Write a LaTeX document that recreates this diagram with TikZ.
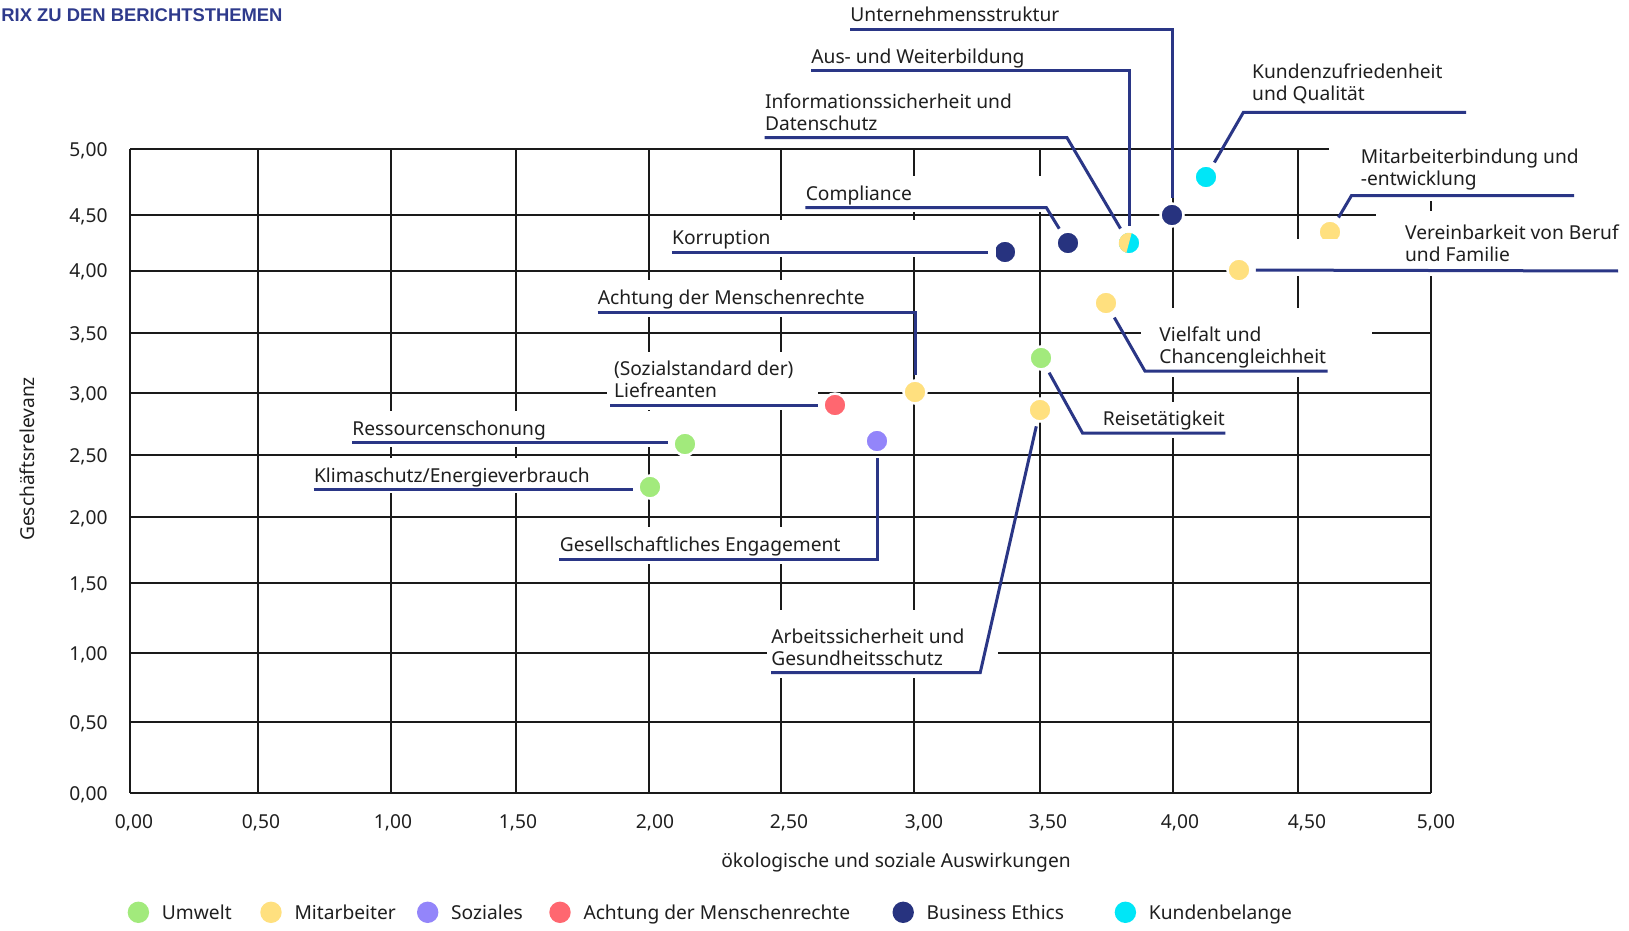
\documentclass[tikz,border=0pt]{standalone}
\usepackage{fontspec}
\setmainfont{Noto Sans}
\newfontfamily\titlefont{Liberation Sans}
\usepackage{xcolor}
\usetikzlibrary{positioning}
\definecolor{matNavy}{HTML}{27337F}
\definecolor{matLine}{HTML}{2A3686}
\definecolor{matTitle}{HTML}{2E3A8C}
\definecolor{matGreen}{HTML}{A2EA7C}
\definecolor{matYellow}{HTML}{FFE07F}
\definecolor{matPurple}{HTML}{9385FA}
\definecolor{matRed}{HTML}{FF6770}
\definecolor{matCyan}{HTML}{00E6F7}
\definecolor{matText}{HTML}{1F1F1F}
\definecolor{matGrid}{HTML}{1A1A1A}
\tikzset{
  gridline/.style={draw=matGrid, line width=0.9pt},
  mask/.style={fill=white},
  topic/.style={circle, inner sep=0pt, minimum size=11.5pt, draw=white, line width=1.25pt},
  lbl/.style={anchor=base west, inner sep=0pt, align=left, text=matText, font=\fontsize{9.6}{11}\selectfont},
  leader/.style={draw=matLine, line width=1.5pt, shorten >=2pt},
  tick/.style={inner sep=0pt, text=matText, font=\fontsize{9.6}{11}\selectfont},
  legdot/.style={circle, inner sep=0pt, minimum size=10.7pt},
  legtxt/.style={inner sep=0pt, text depth=0pt, text=matText, font=\fontsize{9.6}{11}\selectfont}
}
\begin{document}
\begin{tikzpicture}[x=0.5pt, y=-0.5pt]
\fill[white] (0,0) rectangle (1629,931);
\useasboundingbox (0,0) rectangle (1629,931);
\node[anchor=base west, inner sep=0pt, text=matTitle, font=\titlefont\fontsize{9.2}{11}\selectfont\bfseries] (title) at (1,21.7) {RIX ZU DEN BERICHTSTHEMEN};
% grid and scales
\foreach \gy/\val [count=\i] in {149/{5,00},215/{4,50},271/{4,00},333/{3,50},393/{3,00},455/{2,50},517/{2,00},583/{1,50},653/{1,00},722/{0,50},793/{0,00}} {
  \draw[gridline] (130,\gy) -- (1431,\gy);
  \node[tick, anchor=base west] (yt\i) at (69,\gy+7) {\val};
}
\foreach \gx/\cx/\val [count=\i] in {130/134/{0,00},258/261/{0,50},391/393/{1,00},516/518/{1,50},649/655/{2,00},781/789/{2,50},914/924/{3,00},1040/1048/{3,50},1173/1180/{4,00},1298/1307/{4,50},1431/1436/{5,00}} {
  \draw[gridline] (\gx,149) -- (\gx,793);
  \node[tick, anchor=base] (xt\i) at (\cx,828.7) {\val};
}
\node[tick, anchor=base] (xtitle) at (896,867) {ökologische und soziale Auswirkungen};
\node[tick, rotate=90] (ytitle) at (27,459) {Geschäftsrelevanz};
% topics
\node[topic, fill=matNavy] (dUnt) at (1172,215) {};
\node[topic, fill=matCyan] (dAus) at (1129,243) {};
\fill[matYellow] (dAus.center) ++(105:10.25) arc[start angle=105, end angle=285, radius=10.25] -- cycle;
\node[topic, fill=matCyan] (dKun) at (1206,177) {};
\node[topic, fill=matYellow] (dMit) at (1330,232) {};
\node[topic, fill=matYellow] (dVer) at (1239,270) {};
\node[topic, fill=matNavy] (dCom) at (1068,243) {};
\node[topic, fill=matNavy] (dKor) at (1005,252) {};
\node[topic, fill=matYellow] (dVie) at (1106,303) {};
\node[topic, fill=matYellow] (dAch) at (915,392) {};
\node[topic, fill=matRed] (dSoz) at (835,405) {};
\node[topic, fill=matGreen] (dRes) at (685,444) {};
\node[topic, fill=matGreen] (dKli) at (650,487) {};
\node[topic, fill=matPurple] (dGes) at (877,441) {};
\node[topic, fill=matGreen] (dRei) at (1041,358) {};
\node[topic, fill=matYellow] (dArb) at (1040,410) {};
% label backgrounds
\fill[mask] (1329,140) rectangle (1629,201);
\fill[mask] (1376,211) rectangle (1629,276);
\fill[mask] (1250,239) rectangle (1629,276);
\fill[mask] (797,176) rectangle (1050,212);
\fill[mask] (664,220) rectangle (996,257);
\fill[mask] (590,280) rectangle (908,317);
\fill[mask] (607,352) rectangle (818,410);
\fill[mask] (345,411) rectangle (672,447);
\fill[mask] (306,458) rectangle (636,493);
\fill[mask] (552,527) rectangle (880,564);
\fill[mask] (767,610) rectangle (998,678);
\fill[mask] (1141,308) rectangle (1372,377);
\fill[mask] (1095,402) rectangle (1232,438);
% labels
\node[lbl] (lUnt) at (850,22) {Unternehmensstruktur};
\node[lbl] (lAus) at (811,63.5) {Aus- und Weiterbildung};
\node[lbl] (lInf) at (764.6,131) {Informationssicherheit und\\Datenschutz};
\node[lbl] (lKun) at (1251.8,101) {Kundenzufriedenheit\\und Qualität};
\node[lbl] (lMit) at (1360.5,185) {Mitarbeiterbindung und\\-entwicklung};
\node[lbl] (lVer) at (1404.7,262) {Vereinbarkeit von Beruf\\und Familie};
\node[lbl] (lCom) at (805.4,200.5) {Compliance};
\node[lbl] (lKor) at (671.8,244) {Korruption};
\node[lbl] (lVie) at (1159,363.5) {Vielfalt und\\Chancengleichheit};
\node[lbl] (lRei) at (1102.4,425.5) {Reisetätigkeit};
\node[lbl] (lAch) at (597.5,304.5) {Achtung der Menschenrechte};
\node[lbl] (lSoz) at (613.6,397) {(Sozialstandard der)\\Liefreanten};
\node[lbl] (lRes) at (352,435) {Ressourcenschonung};
\node[lbl] (lKli) at (313.6,482) {Klimaschutz/Energieverbrauch};
\node[lbl] (lGes) at (559.4,551.7) {Gesellschaftliches Engagement};
\node[lbl] (lArb) at (771,665.5) {Arbeitssicherheit und\\Gesundheitsschutz};
% leaders
\coordinate (uUnt) at (850,29.3);
\coordinate (uAus) at (811,71);
\coordinate (uInf) at (764.6,137.7);
\coordinate (uKun) at (1466,112.3);
\coordinate (uMit) at (1574,195.7);
\coordinate (uVer) at (1618,271);
\coordinate (uCom) at (805.4,207.7);
\coordinate (uKor) at (671.8,252);
\coordinate (uVie) at (1327.7,371);
\coordinate (uRei) at (1225.4,433);
\coordinate (uAch) at (597.5,312);
\coordinate (uSoz) at (610,405);
\coordinate (uRes) at (352,442.3);
\coordinate (uKli) at (313.6,489.7);
\coordinate (uGes) at (559.4,559);
\coordinate (uArb) at (771,672.7);
\draw[leader] (uUnt) -| (dUnt);
\draw[leader] (uAus) -| (dAus);
\draw[leader] (uInf) -- (1067,137.7) -- (dAus);
\draw[leader] (uKun) -- (1243.4,112.3) -- (dKun);
\draw[leader] (uMit) -- (1351.4,195.7) -- (dMit);
\draw[leader] (uVer) -- (dVer);
\draw[leader] (uCom) -- (1046.4,207.7) -- (dCom);
\draw[leader] (uKor) -- (uKor -| dKor.west);
\draw[leader] (uVie) -- (1144.9,371) -- (dVie);
\draw[leader] (uRei) -- (1082.5,433) -- (dRei);
\draw[leader] (uAch) -| (dAch);
\draw[leader] (uSoz) -- (uSoz -| dSoz.west);
\draw[leader] (uRes) -- (uRes -| dRes.west);
\draw[leader] (uKli) -- (uKli -| dKli.west);
\draw[leader] (uGes) -| (dGes);
\draw[leader] (uArb) -- (980.2,672.7) -- (dArb);
% legend
\node[legdot, fill=matGreen] (lgUmw) at (138.4,912.3) {};
\node[legtxt, right=6pt of lgUmw] (ltUmw) {Umwelt};
\node[legdot, fill=matYellow] (lgMit) at (271,912.3) {};
\node[legtxt, right=6pt of lgMit] (ltMit) {Mitarbeiter};
\node[legdot, fill=matPurple] (lgSoz) at (427.7,912.3) {};
\node[legtxt, right=6pt of lgSoz] (ltSoz) {Soziales};
\node[legdot, fill=matRed] (lgAch) at (560,912.3) {};
\node[legtxt, right=6pt of lgAch] (ltAch) {Achtung der Menschenrechte};
\node[legdot, fill=matNavy] (lgBus) at (903.2,912.3) {};
\node[legtxt, right=6pt of lgBus] (ltBus) {Business Ethics};
\node[legdot, fill=matCyan] (lgKun) at (1125.4,912.3) {};
\node[legtxt, right=6pt of lgKun] (ltKun) {Kundenbelange};
\end{tikzpicture}
\end{document}
